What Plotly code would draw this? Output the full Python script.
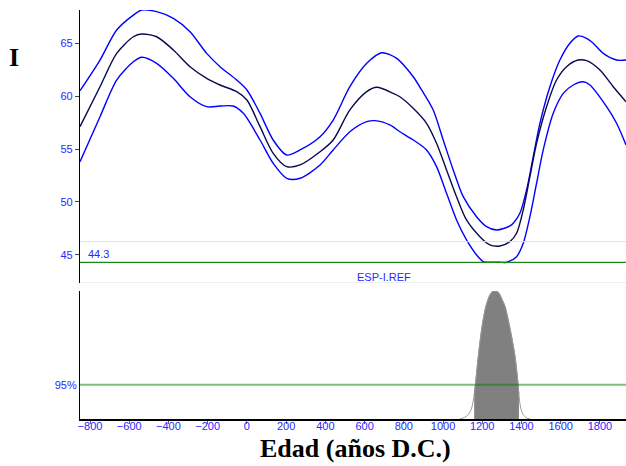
import numpy as np
import plotly.graph_objects as go

# ---------------- data ----------------
mid_years = [-851, -749, -664, -579, -536, -460, -375, -290, -205, -137, -52, 0, 67, 134, 203, 271,
             373, 440, 525, 611, 662, 746, 780, 848, 916, 967, 1018, 1069, 1120, 1188, 1239, 1290,
             1341, 1375, 1409, 1443, 1477, 1528, 1579, 1630, 1689, 1732, 1800, 1868, 1933]
mid_vals = [57.12, 60.90, 64.05, 65.62, 65.88, 65.62, 64.37, 62.79, 61.69, 61.06, 60.43, 59.64, 57.12,
            54.60, 53.34, 53.50, 54.75, 55.86, 58.70, 60.43, 60.84, 60.27, 59.95, 58.86, 57.44, 55.55,
            53.03, 50.50, 48.30, 46.72, 45.94, 45.84, 46.25, 47.04, 49.24, 52.39, 55.55, 59.01, 61.53,
            62.79, 63.42, 63.36, 62.48, 60.90, 59.48]

upper_years = [-851, -749, -664, -579, -536, -460, -375, -290, -205, -137, -52, 0, 67, 134, 203, 271,
               373, 440, 525, 611, 687, 764, 848, 891, 950, 1001, 1052, 1103, 1171, 1222, 1273, 1341,
               1358, 1392, 1426, 1460, 1494, 1545, 1596, 1647, 1689, 1732, 1766, 1817, 1885, 1933]
upper_vals = [60.52, 63.42, 66.26, 67.67, 68.15, 67.99, 67.36, 66.10, 64.05, 62.79, 61.53, 60.59, 58.38,
              55.86, 54.44, 54.92, 56.17, 57.75, 60.90, 63.11, 64.11, 63.58, 61.84, 60.59, 58.70, 55.86,
              53.03, 50.50, 48.61, 47.67, 47.35, 47.73, 47.99, 48.93, 51.13, 54.28, 57.44, 60.90, 63.42,
              65.00, 65.69, 65.47, 65.00, 64.05, 63.42, 63.42]

lower_years = [-851, -749, -664, -579, -536, -460, -375, -290, -205, -137, -71, -18, 67, 134, 203, 271,
               373, 440, 525, 611, 653, 729, 780, 848, 916, 967, 1018, 1069, 1120, 1171, 1205, 1239,
               1290, 1324, 1375, 1409, 1443, 1477, 1511, 1562, 1613, 1664, 1715, 1749, 1834, 1885, 1933]
lower_vals = [53.81, 58.06, 61.53, 63.26, 63.68, 63.11, 61.69, 59.95, 59.01, 59.07, 59.07, 58.38, 55.86,
              53.66, 52.24, 52.24, 53.50, 54.92, 56.64, 57.59, 57.69, 57.28, 56.64, 55.86, 54.92, 53.34,
              50.82, 48.30, 46.41, 44.99, 44.36, 44.30, 44.30, 44.30, 44.83, 46.10, 48.61, 51.77, 54.92,
              58.38, 60.27, 61.06, 61.37, 61.06, 59.01, 57.44, 55.39]

prob_years = [1085, 1103, 1129, 1146, 1159, 1168, 1180, 1197, 1214, 1231, 1248, 1265, 1282, 1299, 1316,
              1333, 1350, 1367, 1379, 1387, 1396, 1409, 1426, 1445]
prob_vals = [0.0, 0.008, 0.034, 0.086, 0.19, 0.31, 0.49, 0.70, 0.85, 0.94, 0.99, 1.0, 0.99, 0.94, 0.88,
             0.77, 0.64, 0.49, 0.33, 0.19, 0.086, 0.034, 0.008, 0.0]

interval_95 = [1159, 1387]
ref_value = 44.3
ref_label = "44.3"
level_95 = 0.268
level_label = "95%"
curve_name = "ESP-I.REF"
x_ticks = list(range(-800, 1801, 200))
y_ticks = [45, 50, 55, 60, 65]
x_title = "Edad (años D.C.)"
panel_label = "I"

# ---------------- figure ----------------
BLUE = "#0000ff"
NAVY = "#0a0a50"
TICKFONT = dict(family="Liberation Sans", size=11, color="#2828ff")

fig = go.Figure()

for yrs, vals, col in [(upper_years, upper_vals, BLUE), (lower_years, lower_vals, BLUE),
                       (mid_years, mid_vals, NAVY)]:
    fig.add_trace(go.Scatter(x=yrs, y=vals, mode="lines", xaxis="x", yaxis="y2",
                             line=dict(color=col, width=1.4, shape="spline", smoothing=0.8),
                             hoverinfo="skip"))

py = np.array(prob_years)
pv = np.array(prob_vals)
mask = (py >= interval_95[0]) & (py <= interval_95[1])
fig.add_trace(go.Scatter(x=py[mask], y=pv[mask], mode="lines", fill="tozeroy",
                         fillcolor="#808080", xaxis="x", yaxis="y",
                         line=dict(color="#808080", width=1, shape="spline", smoothing=0.8),
                         hoverinfo="skip"))
fig.add_trace(go.Scatter(x=py, y=pv, mode="lines", xaxis="x", yaxis="y",
                         line=dict(color="#999999", width=1, shape="spline", smoothing=0.8),
                         hoverinfo="skip"))

top_dom = [0.3325, 1.0]
bot_dom = [0.0, 0.313]

fig.update_layout(
    width=626, height=466,
    margin=dict(l=80, r=0, t=10, b=47),
    paper_bgcolor="white", plot_bgcolor="white",
    showlegend=False,
    xaxis=dict(range=[-851, 1933], tickvals=x_ticks, ticks="outside", ticklen=3,
               tickcolor="#666666", showline=True, linecolor="black", linewidth=1.5,
               showgrid=False, zeroline=False, tickfont=TICKFONT, anchor="y",
               ticklabelstandoff=-7),
    yaxis=dict(domain=bot_dom, range=[0, 1.0], tickvals=[level_95], ticktext=[level_label],
               ticks="", showline=True, linecolor="black", linewidth=1.2, showgrid=False,
               zeroline=False, tickfont=TICKFONT, anchor="x"),
    yaxis2=dict(domain=top_dom, range=[42.34, 68.15], tickvals=y_ticks, ticks="outside",
                ticklen=4, tickcolor="#444444", showline=True, linecolor="black", linewidth=1.2,
                showgrid=False, zeroline=False, tickfont=TICKFONT, anchor="x"),
)

# reference lines
fig.add_shape(type="line", xref="paper", x0=0, x1=1, yref="y2", y0=46.25, y1=46.25,
              line=dict(color="#d6e6d6", width=1))
fig.add_shape(type="line", xref="paper", x0=0, x1=1, yref="y2", y0=42.34, y1=42.34,
              line=dict(color="#d6e6d6", width=1))
fig.add_shape(type="line", xref="paper", x0=0, x1=1, yref="y2", y0=ref_value, y1=ref_value,
              line=dict(color="#1a8a1a", width=1.2))
fig.add_shape(type="line", xref="paper", x0=0, x1=1, yref="y", y0=level_95, y1=level_95,
              line=dict(color="rgba(0,128,0,0.5)", width=2))

# texts
fig.add_annotation(text=ref_label, xref="paper", yref="y2", x=0.011, y=ref_value,
                   xanchor="left", yanchor="bottom", showarrow=False, font=TICKFONT)
fig.add_annotation(text=curve_name, xref="paper", yref="paper", x=0.5568, y=0.348,
                   xanchor="center", yanchor="middle", showarrow=False, font=TICKFONT)
fig.add_annotation(text="<b>" + panel_label + "</b>", xref="paper", yref="paper", x=-0.1209, y=0.884,
                   xanchor="center", yanchor="middle", showarrow=False,
                   font=dict(family="Liberation Serif", size=26, color="black"))
fig.add_annotation(text="<b>" + x_title + "</b>", xref="paper", yref="paper", x=0.5046, y=-0.0733,
                   xanchor="center", yanchor="middle", showarrow=False,
                   font=dict(family="Liberation Serif", size=26, color="black"))

fig.write_html("out.html")
